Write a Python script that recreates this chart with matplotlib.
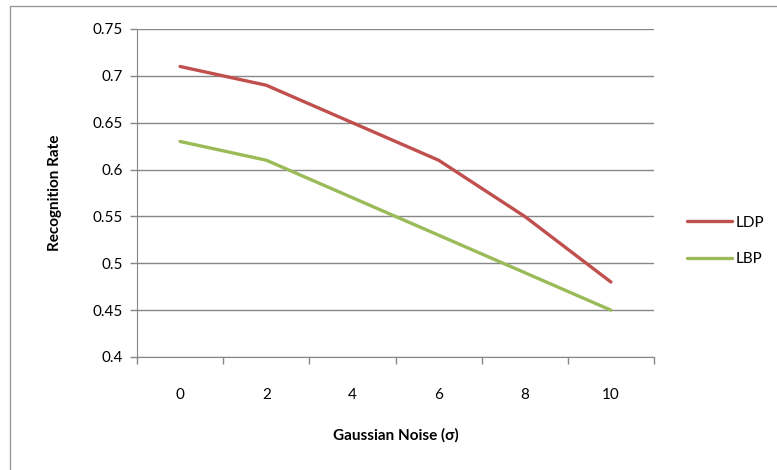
import matplotlib.pyplot as plt
from matplotlib.patches import Rectangle
import numpy as np

noise = ["0", "2", "4", "6", "8", "10"]
ldp = [0.71, 0.69, 0.65, 0.61, 0.55, 0.48]
lbp = [0.63, 0.61, 0.57, 0.53, 0.49, 0.45]
yticks = [0.4, 0.45, 0.5, 0.55, 0.6, 0.65, 0.7, 0.75]
ytick_labels = ["0.4", "0.45", "0.5", "0.55", "0.6", "0.65", "0.7", "0.75"]

plt.rcParams['font.family'] = ['Lato', 'DejaVu Sans']

W, H = 777, 470
fig = plt.figure(figsize=(W / 100, H / 100), dpi=100)
ax = fig.add_axes([137 / W, 1 - 357 / H, (654 - 137) / W, (357 - 29) / H])

# outer chart border
fig.patches.append(Rectangle((10 / W, -0.1), 1.2, 1 - 6 / H + 0.1, transform=fig.transFigure,
                             fill=False, edgecolor="#9a9a9a", linewidth=1))

x = np.arange(len(noise))
ax.plot(x, ldp, color="#C0504D", linewidth=2.4, label="LDP", solid_capstyle="round")
ax.plot(x, lbp, color="#9BBB59", linewidth=2.4, label="LBP", solid_capstyle="round")

ax.set_xlim(-0.5, len(noise) - 0.5)
ax.set_ylim(0.4, 0.75)
ax.set_yticks(yticks)
ax.set_yticklabels(ytick_labels, fontsize=11, color="#000000")
ax.set_xticks(x)
ax.set_xticklabels(noise, fontsize=11)
ax.set_xticks(np.arange(-0.5, len(noise)), minor=True)
ax.tick_params(axis="x", which="major", length=0, pad=22)
ax.tick_params(axis="x", which="minor", length=5, color="#868686", width=1, direction="out")
ax.tick_params(axis="y", length=5, color="#868686", width=1, pad=5)

ax.grid(axis="y", color="#868686", linewidth=1)
ax.set_axisbelow(True)
for side in ["top", "right"]:
    ax.spines[side].set_visible(False)
for side in ["left", "bottom"]:
    ax.spines[side].set_color("#868686")

ax.set_xlabel("Gaussian Noise (σ)", fontsize=11, fontweight="bold", labelpad=19)
ax.set_ylabel("Recognition Rate", fontsize=11, fontweight="bold", labelpad=22)

ax.legend(loc="center left", bbox_to_anchor=(687 / W, 1 - 241 / H),
          bbox_transform=fig.transFigure, frameon=False, fontsize=11,
          borderpad=0, borderaxespad=0,
          handlelength=2.95, handletextpad=0.25, labelspacing=1.5)

fig.savefig("out.png", dpi=100)
